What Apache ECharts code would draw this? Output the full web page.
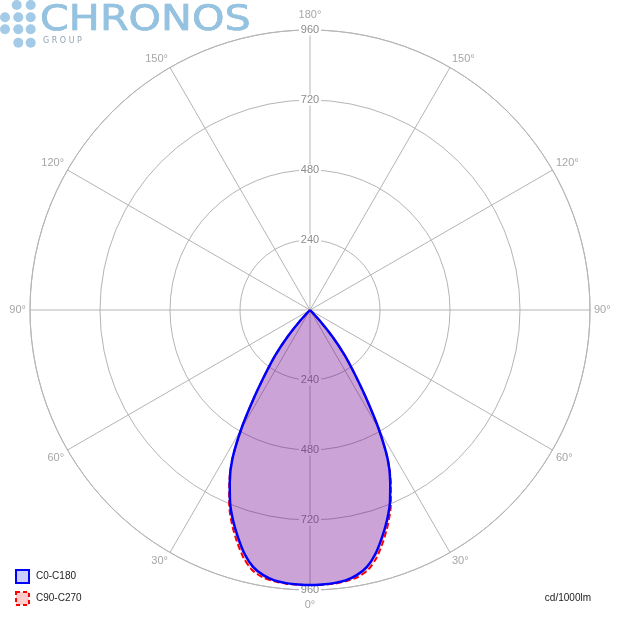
<!DOCTYPE html>
<html><head><meta charset="utf-8">
<script src="https://cdn.jsdelivr.net/npm/echarts@6/dist/echarts.min.js"></script>
<style>html,body{margin:0;padding:0;background:#fff}#c{width:620px;height:620px}</style>
</head><body><div id="c"></div>
<script>
// gamma angles (degrees from nadir) and intensities (cd/1000lm)
const gammaDeg = [0,2.5,5,7.5,10,12.5,15,17.5,20,22.5,25,27.5,30,32.5,35,37.5,40,42.5,45];
const c0c180  = [943,942,940,935,923,902,866,819,770,716,651,577,472,358,265,195,120,50,0];
const c90c270 = [943,943,942,938,931,914,880,833,782,724,655,578,472,358,265,195,120,50,0];
const angleTickStep = 30;
const radialTicks = [0,240,480,720,960];
const seriesNames = ['C0-C180','C90-C270'];

function polarCurve(vals){
  const pts = [];
  for (let i = gammaDeg.length - 1; i >= 1; i--) pts.push([vals[i], 360 - gammaDeg[i]]);
  for (let i = 0; i < gammaDeg.length; i++) pts.push([vals[i], gammaDeg[i]]);
  return pts;
}

const grid = '#b5b5b5';
const chart = echarts.init(document.getElementById('c'));
const dots = [[16.7,5],[30.7,5],[5,17.3],[18.3,17.3],[30.7,17.3],[5,29.3],[18.3,29.3],[30.7,29.3],[18.3,42.7],[30.7,42.7]];
const radLabel = {
  margin: 0, align: 'center', verticalAlign: 'middle',
  color: '#8c8c8c', fontSize: 11, fontFamily: 'Liberation Sans',
  backgroundColor: '#ffffff', padding: [0, 2],
  formatter: v => v === 0 ? '' : String(v)
};
chart.setOption({
  animation: false,
  backgroundColor: '#ffffff',
  polar: [
    {center: ['50%','50%'], radius: 280},
    {center: ['50%','50%'], radius: 280}
  ],
  angleAxis: [
    {polarIndex: 0, type: 'value', min: 0, max: 360, interval: angleTickStep,
     startAngle: 270, clockwise: true,
     axisLine: {show: true, lineStyle: {color: grid, width: 1}},
     axisTick: {show: false},
     splitLine: {show: true, lineStyle: {color: grid, width: 1}},
     axisLabel: {margin: 4, color: '#a6a6a6', fontSize: 11, fontFamily: 'Liberation Sans',
       formatter: v => {
         if (v === 360) return '';
         const d = v <= 180 ? v : 360 - v;
         if (d === 180) return '{t|180°}';
         if (d === 0) return '{b|0°}';
         return d + '°';
       },
       rich: {
         t: {padding: [0,0,6,0], color: '#a6a6a6', fontSize: 11, fontFamily: 'Liberation Sans'},
         b: {padding: [5,0,0,0], color: '#a6a6a6', fontSize: 11, fontFamily: 'Liberation Sans'}
       }
     }},
    {polarIndex: 1, type: 'value', min: 0, max: 360, startAngle: 90, clockwise: true, show: false}
  ],
  radiusAxis: [
    {polarIndex: 0, type: 'value', min: radialTicks[0], max: radialTicks[radialTicks.length-1], interval: radialTicks[1]-radialTicks[0],
     z: 3, axisLine: {show: false}, axisTick: {show: false},
     splitLine: {show: true, lineStyle: {color: grid, width: 1}},
     axisLabel: radLabel},
    {polarIndex: 1, type: 'value', min: radialTicks[0], max: radialTicks[radialTicks.length-1], interval: radialTicks[1]-radialTicks[0],
     z: 3, axisLine: {show: false}, axisTick: {show: false},
     splitLine: {show: false},
     axisLabel: radLabel}
  ],
  legend: {
    orient: 'vertical', left: 10, bottom: 9, itemWidth: 13, itemHeight: 13, itemGap: 7,
    selectedMode: false,
    textStyle: {fontSize: 10, color: '#222', fontFamily: 'Liberation Sans', padding: [0,0,0,2]},
    data: [
      {name: seriesNames[0], icon: 'rect', itemStyle: {color: 'rgba(0,0,255,0.2)', borderColor: '#0000ff', borderWidth: 2}},
      {name: seriesNames[1], icon: 'rect', itemStyle: {color: 'rgba(255,0,0,0.2)', borderColor: '#ff0000', borderWidth: 2, borderType: [4, 3]}}
    ]
  },
  series: [
    {type: 'line', name: seriesNames[1], coordinateSystem: 'polar', polarIndex: 0,
     data: polarCurve(c90c270), symbol: 'none', smooth: 0.25, z: 5, silent: true,
     itemStyle: {color: '#ff0000'},
     lineStyle: {color: '#ff0000', width: 2, type: [6, 3]},
     areaStyle: {color: 'rgba(255,0,0,0.2)', opacity: 1}},
    {type: 'line', name: seriesNames[0], coordinateSystem: 'polar', polarIndex: 0,
     data: polarCurve(c0c180), symbol: 'none', smooth: 0.25, z: 6, silent: true,
     itemStyle: {color: '#0000ff'},
     lineStyle: {color: '#0000ff', width: 2.5},
     areaStyle: {color: 'rgba(0,0,255,0.2)', opacity: 1}}
  ],
  graphic: [
    ...dots.map(d => ({type: 'circle', shape: {cx: d[0], cy: d[1], r: 5}, style: {fill: '#a3cae6'}})),
    {type: 'text', x: 40, y: 21, scaleX: 1.18,
     style: {text: 'CHRONOS', font: '35px "DejaVu Sans"', fill: '#94c3e1', stroke: '#80b1d2', lineWidth: 0.6, verticalAlign: 'middle'}},
    {type: 'text', x: 43, y: 41,
     style: {text: 'G R O U P', font: '8px "DejaVu Sans"', fill: '#8fa3b3', verticalAlign: 'middle'}},
    {type: 'text', x: 591, y: 598,
     style: {text: 'cd/1000lm', font: '10px "Liberation Sans"', fill: '#222', align: 'right', verticalAlign: 'middle'}}
  ]
});
</script></body></html>
